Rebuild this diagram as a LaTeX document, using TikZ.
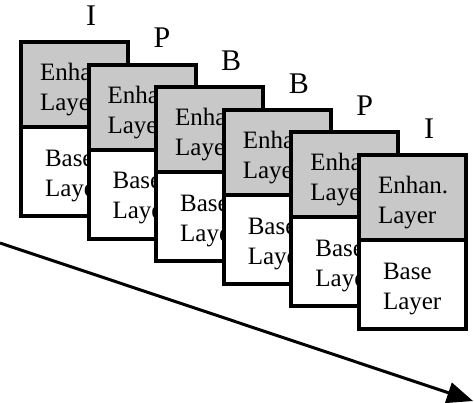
\documentclass[tikz,border=0pt]{standalone}
\usepackage{fontspec}
\setmainfont{Liberation Serif}
\usetikzlibrary{arrows.meta}
\definecolor{enhgray}{RGB}{200,200,200}
\tikzset{
  layerbox/.style={draw=black, line width=4pt, minimum width=107pt, outer sep=0pt, inner sep=0pt, anchor=north west},
  enhbox/.style={layerbox, fill=enhgray, minimum height=85pt},
  basebox/.style={layerbox, fill=white, minimum height=89pt},
  lbl/.style={font=\fontsize{25}{30}\selectfont, anchor=base west, inner sep=0pt, outer sep=0pt},
  framelbl/.style={font=\fontsize{30}{34}\selectfont, anchor=base west, inner sep=0pt, outer sep=0pt},
  timearrow/.style={line width=3pt, -{Triangle[length=26pt,width=21pt]}},
}
\begin{document}
\begin{tikzpicture}[x=1pt,y=-1pt]
\useasboundingbox (0,0) rectangle (474,403);
\foreach \i/\t in {0/I,1/P,2/B,3/B,4/P,5/I}{
  \pgfmathsetmacro\fx{21+67.6*\i}
  \pgfmathsetmacro\fy{42+22.6*\i}
  \node[enhbox] (e\i) at (\fx,\fy) {};
  \node[basebox] (b\i) at (\fx,{\fy+85}) {};
  \node[lbl] (et\i) at ({\fx+19},{\fy+38.5}) {Enhan.};
  \node[lbl] (el\i) at ({\fx+19},{\fy+68.5}) {Layer};
  \node[lbl] (bt\i) at ({\fx+24},{\fy+124.3}) {Base};
  \node[lbl] (bl\i) at ({\fx+24},{\fy+154.3}) {Layer};
  \node[framelbl] (t\i) at ({\fx+65},{\fy-16.6}) {\t};
}
\coordinate (as) at (0,243);
\coordinate (ae) at (473,401);
\draw[timearrow] (as) -- (ae);
\end{tikzpicture}
\end{document}
